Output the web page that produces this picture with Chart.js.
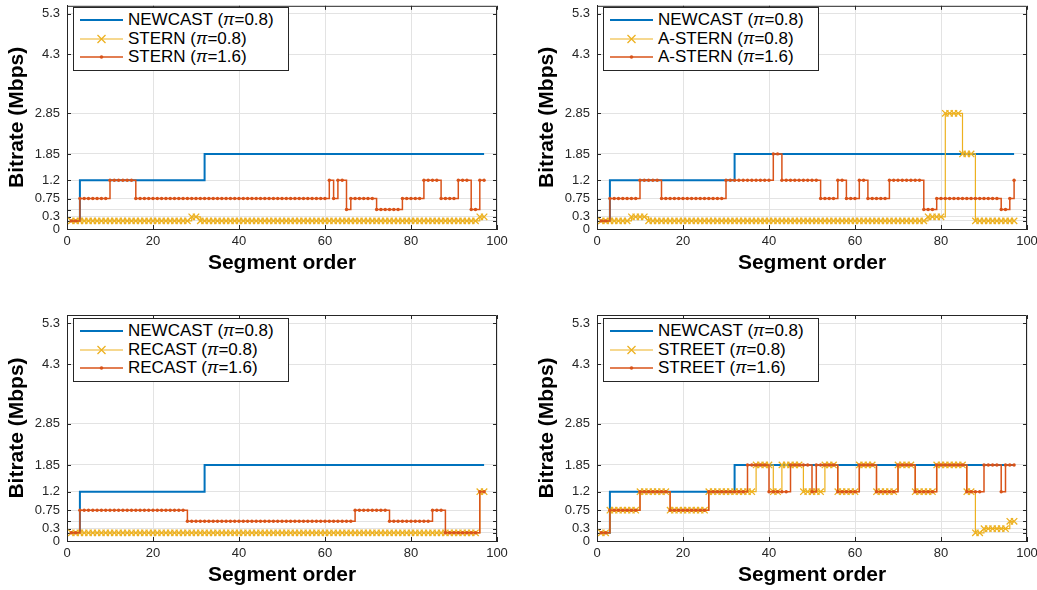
<!DOCTYPE html>
<html>
<head>
<meta charset="utf-8">
<script src="https://cdn.jsdelivr.net/npm/chart.js@4.4.0/dist/chart.umd.min.js"></script>
<style>
  body { margin: 0; background: #fff; }
  #wrap { position: relative; width: 1037px; height: 590px; overflow: hidden; font-family: "Liberation Sans", Arial, sans-serif; }
  #wrap canvas { position: absolute; left: 0; top: 0; }
  .legend { position: absolute; background: #fff; border: 1px solid #262626; padding: 3px 14px 3px 6px; font-size: 17px; color: #000; }
  .legend .row { height: 18.5px; line-height: 18.5px; white-space: nowrap; display: flex; align-items: center; }
  .legend svg { margin-right: 5px; flex: none; }
</style>
</head>
<body>
<div id="wrap">
  <canvas id="c1" width="1037" height="590"></canvas>
  <canvas id="c2" width="1037" height="590"></canvas>
  <canvas id="c3" width="1037" height="590"></canvas>
  <canvas id="c4" width="1037" height="590"></canvas>
</div>
<script>
// segment order (x) and bitrate per segment (Mbps)
const segmentOrder = [
  1, 2, 3, 4, 5, 6, 7, 8, 9, 10,
  11, 12, 13, 14, 15, 16, 17, 18, 19, 20,
  21, 22, 23, 24, 25, 26, 27, 28, 29, 30,
  31, 32, 33, 34, 35, 36, 37, 38, 39, 40,
  41, 42, 43, 44, 45, 46, 47, 48, 49, 50,
  51, 52, 53, 54, 55, 56, 57, 58, 59, 60,
  61, 62, 63, 64, 65, 66, 67, 68, 69, 70,
  71, 72, 73, 74, 75, 76, 77, 78, 79, 80,
  81, 82, 83, 84, 85, 86, 87, 88, 89, 90,
  91, 92, 93, 94, 95, 96, 97
];

const newcast = [
  0.2, 0.2, 1.2, 1.2, 1.2, 1.2, 1.2, 1.2, 1.2, 1.2,
  1.2, 1.2, 1.2, 1.2, 1.2, 1.2, 1.2, 1.2, 1.2, 1.2,
  1.2, 1.2, 1.2, 1.2, 1.2, 1.2, 1.2, 1.2, 1.2, 1.2,
  1.2, 1.85, 1.85, 1.85, 1.85, 1.85, 1.85, 1.85, 1.85, 1.85,
  1.85, 1.85, 1.85, 1.85, 1.85, 1.85, 1.85, 1.85, 1.85, 1.85,
  1.85, 1.85, 1.85, 1.85, 1.85, 1.85, 1.85, 1.85, 1.85, 1.85,
  1.85, 1.85, 1.85, 1.85, 1.85, 1.85, 1.85, 1.85, 1.85, 1.85,
  1.85, 1.85, 1.85, 1.85, 1.85, 1.85, 1.85, 1.85, 1.85, 1.85,
  1.85, 1.85, 1.85, 1.85, 1.85, 1.85, 1.85, 1.85, 1.85, 1.85,
  1.85, 1.85, 1.85, 1.85, 1.85, 1.85, 1.85
];

const stern08 = [
  0.2, 0.2, 0.2, 0.2, 0.2, 0.2, 0.2, 0.2, 0.2, 0.2,
  0.2, 0.2, 0.2, 0.2, 0.2, 0.2, 0.2, 0.2, 0.2, 0.2,
  0.2, 0.2, 0.2, 0.2, 0.2, 0.2, 0.2, 0.2, 0.3, 0.3,
  0.2, 0.2, 0.2, 0.2, 0.2, 0.2, 0.2, 0.2, 0.2, 0.2,
  0.2, 0.2, 0.2, 0.2, 0.2, 0.2, 0.2, 0.2, 0.2, 0.2,
  0.2, 0.2, 0.2, 0.2, 0.2, 0.2, 0.2, 0.2, 0.2, 0.2,
  0.2, 0.2, 0.2, 0.2, 0.2, 0.2, 0.2, 0.2, 0.2, 0.2,
  0.2, 0.2, 0.2, 0.2, 0.2, 0.2, 0.2, 0.2, 0.2, 0.2,
  0.2, 0.2, 0.2, 0.2, 0.2, 0.2, 0.2, 0.2, 0.2, 0.2,
  0.2, 0.2, 0.2, 0.2, 0.2, 0.3, 0.3
];

const stern16 = [
  0.2, 0.2, 0.75, 0.75, 0.75, 0.75, 0.75, 0.75, 0.75, 1.2,
  1.2, 1.2, 1.2, 1.2, 1.2, 0.75, 0.75, 0.75, 0.75, 0.75,
  0.75, 0.75, 0.75, 0.75, 0.75, 0.75, 0.75, 0.75, 0.75, 0.75,
  0.75, 0.75, 0.75, 0.75, 0.75, 0.75, 0.75, 0.75, 0.75, 0.75,
  0.75, 0.75, 0.75, 0.75, 0.75, 0.75, 0.75, 0.75, 0.75, 0.75,
  0.75, 0.75, 0.75, 0.75, 0.75, 0.75, 0.75, 0.75, 0.75, 0.75,
  1.2, 0.75, 1.2, 1.2, 0.48, 0.75, 0.75, 0.75, 0.75, 0.75,
  0.75, 0.48, 0.48, 0.48, 0.48, 0.48, 0.48, 0.75, 0.75, 0.75,
  0.75, 0.75, 1.2, 1.2, 1.2, 1.2, 0.75, 0.75, 0.75, 0.75,
  1.2, 1.2, 1.2, 0.48, 0.48, 1.2, 1.2
];

const astern08 = [
  0.2, 0.2, 0.2, 0.2, 0.2, 0.2, 0.2, 0.3, 0.3, 0.3,
  0.3, 0.2, 0.2, 0.2, 0.2, 0.2, 0.2, 0.2, 0.2, 0.2,
  0.2, 0.2, 0.2, 0.2, 0.2, 0.2, 0.2, 0.2, 0.2, 0.2,
  0.2, 0.2, 0.2, 0.2, 0.2, 0.2, 0.2, 0.2, 0.2, 0.2,
  0.2, 0.2, 0.2, 0.2, 0.2, 0.2, 0.2, 0.2, 0.2, 0.2,
  0.2, 0.2, 0.2, 0.2, 0.2, 0.2, 0.2, 0.2, 0.2, 0.2,
  0.2, 0.2, 0.2, 0.2, 0.2, 0.2, 0.2, 0.2, 0.2, 0.2,
  0.2, 0.2, 0.2, 0.2, 0.2, 0.2, 0.3, 0.3, 0.3, 0.3,
  2.85, 2.85, 2.85, 2.85, 1.85, 1.85, 1.85, 0.2, 0.2, 0.2,
  0.2, 0.2, 0.2, 0.2, 0.2, 0.2, 0.2
];

const astern16 = [
  0.2, 0.2, 0.75, 0.75, 0.75, 0.75, 0.75, 0.75, 0.75, 1.2,
  1.2, 1.2, 1.2, 1.2, 0.75, 0.75, 0.75, 0.75, 0.75, 0.75,
  0.75, 0.75, 0.75, 0.75, 0.75, 0.75, 0.75, 0.75, 0.75, 1.2,
  1.2, 1.2, 1.2, 1.2, 1.2, 1.2, 1.2, 1.2, 1.2, 1.2,
  1.85, 1.85, 1.2, 1.2, 1.2, 1.2, 1.2, 1.2, 1.2, 1.2,
  1.2, 0.75, 0.75, 0.75, 0.75, 1.2, 1.2, 0.75, 0.75, 0.75,
  1.2, 1.2, 0.75, 0.75, 0.75, 0.75, 0.75, 1.2, 1.2, 1.2,
  1.2, 1.2, 1.2, 1.2, 1.2, 0.48, 0.48, 0.48, 0.75, 0.75,
  0.75, 0.75, 0.75, 0.75, 0.75, 0.75, 0.75, 0.75, 0.75, 0.75,
  0.75, 0.75, 0.75, 0.48, 0.48, 0.75, 1.2
];

const recast08 = [
  0.2, 0.2, 0.2, 0.2, 0.2, 0.2, 0.2, 0.2, 0.2, 0.2,
  0.2, 0.2, 0.2, 0.2, 0.2, 0.2, 0.2, 0.2, 0.2, 0.2,
  0.2, 0.2, 0.2, 0.2, 0.2, 0.2, 0.2, 0.2, 0.2, 0.2,
  0.2, 0.2, 0.2, 0.2, 0.2, 0.2, 0.2, 0.2, 0.2, 0.2,
  0.2, 0.2, 0.2, 0.2, 0.2, 0.2, 0.2, 0.2, 0.2, 0.2,
  0.2, 0.2, 0.2, 0.2, 0.2, 0.2, 0.2, 0.2, 0.2, 0.2,
  0.2, 0.2, 0.2, 0.2, 0.2, 0.2, 0.2, 0.2, 0.2, 0.2,
  0.2, 0.2, 0.2, 0.2, 0.2, 0.2, 0.2, 0.2, 0.2, 0.2,
  0.2, 0.2, 0.2, 0.2, 0.2, 0.2, 0.2, 0.2, 0.2, 0.2,
  0.2, 0.2, 0.2, 0.2, 0.2, 1.2, 1.2
];

const recast16 = [
  0.2, 0.2, 0.75, 0.75, 0.75, 0.75, 0.75, 0.75, 0.75, 0.75,
  0.75, 0.75, 0.75, 0.75, 0.75, 0.75, 0.75, 0.75, 0.75, 0.75,
  0.75, 0.75, 0.75, 0.75, 0.75, 0.75, 0.75, 0.48, 0.48, 0.48,
  0.48, 0.48, 0.48, 0.48, 0.48, 0.48, 0.48, 0.48, 0.48, 0.48,
  0.48, 0.48, 0.48, 0.48, 0.48, 0.48, 0.48, 0.48, 0.48, 0.48,
  0.48, 0.48, 0.48, 0.48, 0.48, 0.48, 0.48, 0.48, 0.48, 0.48,
  0.48, 0.48, 0.48, 0.48, 0.48, 0.48, 0.75, 0.75, 0.75, 0.75,
  0.75, 0.75, 0.75, 0.75, 0.48, 0.48, 0.48, 0.48, 0.48, 0.48,
  0.48, 0.48, 0.48, 0.48, 0.75, 0.75, 0.75, 0.2, 0.2, 0.2,
  0.2, 0.2, 0.2, 0.2, 0.2, 1.2, 1.2
];

const street08 = [
  0.2, 0.2, 0.75, 0.75, 0.75, 0.75, 0.75, 0.75, 0.75, 1.2,
  1.2, 1.2, 1.2, 1.2, 1.2, 1.2, 0.75, 0.75, 0.75, 0.75,
  0.75, 0.75, 0.75, 0.75, 0.75, 1.2, 1.2, 1.2, 1.2, 1.2,
  1.2, 1.2, 1.2, 1.2, 1.2, 1.2, 1.85, 1.85, 1.85, 1.85,
  1.2, 1.2, 1.85, 1.85, 1.85, 1.85, 1.85, 1.2, 1.2, 1.2,
  1.2, 1.2, 1.85, 1.85, 1.85, 1.2, 1.2, 1.2, 1.2, 1.2,
  1.85, 1.85, 1.85, 1.85, 1.2, 1.2, 1.2, 1.2, 1.2, 1.85,
  1.85, 1.85, 1.85, 1.2, 1.2, 1.2, 1.2, 1.2, 1.85, 1.85,
  1.85, 1.85, 1.85, 1.85, 1.85, 1.2, 1.2, 0.2, 0.2, 0.3,
  0.3, 0.3, 0.3, 0.3, 0.3, 0.48, 0.48
];

const street16 = [
  0.2, 0.2, 0.75, 0.75, 0.75, 0.75, 0.75, 0.75, 0.75, 1.2,
  1.2, 1.2, 1.2, 1.2, 1.2, 1.2, 0.75, 0.75, 0.75, 0.75,
  0.75, 0.75, 0.75, 0.75, 0.75, 1.2, 1.2, 1.2, 1.2, 1.2,
  1.2, 1.2, 1.2, 1.2, 1.85, 1.85, 1.85, 1.85, 1.85, 1.2,
  1.2, 1.2, 1.2, 1.2, 1.85, 1.85, 1.85, 1.85, 1.85, 1.2,
  1.85, 1.85, 1.85, 1.85, 1.85, 1.2, 1.2, 1.2, 1.2, 1.2,
  1.85, 1.85, 1.85, 1.85, 1.2, 1.2, 1.2, 1.2, 1.2, 1.85,
  1.85, 1.85, 1.85, 1.2, 1.2, 1.2, 1.2, 1.2, 1.85, 1.85,
  1.85, 1.85, 1.85, 1.85, 1.85, 1.2, 1.2, 1.2, 1.2, 1.85,
  1.85, 1.85, 1.85, 1.2, 1.85, 1.85, 1.85
];

// axis ticks
const yTicks = [0, 0.2, 0.3, 0.48, 0.75, 1.2, 1.85, 2.85, 4.3, 5.3];
const yTickLabels = ['0', '', '0.3', '', '0.75', '1.2', '1.85', '2.85', '4.3', '5.3'];

const BLUE = '#0072BD';
const YELLOW = '#EDB120';
const RED = '#D95319';
const AXIS = '#262626';
const GRID = '#e3e3e3';

// draws the top/right box edges and inward tick marks like matlab
const boxPlugin = {
  id: 'box',
  beforeDatasetsDraw(chart) {
    const { ctx, chartArea: a, scales } = chart;
    const len = 4;
    ctx.save();
    ctx.strokeStyle = AXIS;
    ctx.lineWidth = 1;
    ctx.beginPath();
    ctx.moveTo(a.left, a.top + 0.5);
    ctx.lineTo(a.right - 0.5, a.top + 0.5);
    ctx.lineTo(a.right - 0.5, a.bottom);
    scales.x.ticks.forEach(t => {
      const px = Math.round(scales.x.getPixelForValue(t.value)) + 0.5;
      ctx.moveTo(px, a.bottom); ctx.lineTo(px, a.bottom - len);
      ctx.moveTo(px, a.top); ctx.lineTo(px, a.top + len);
    });
    scales.y.ticks.forEach(t => {
      const py = Math.round(scales.y.getPixelForValue(t.value)) + 0.5;
      ctx.moveTo(a.left, py); ctx.lineTo(a.left + len, py);
      ctx.moveTo(a.right, py); ctx.lineTo(a.right - len, py);
    });
    ctx.stroke();
    ctx.restore();
  }
};

function pts(values) {
  return segmentOrder.map((s, i) => ({ x: s, y: values[i] }));
}

// stepped 'before' in chart.js = horizontal first, like matlab stairs
function makePanel(id, area, low, high) {
  new Chart(document.getElementById(id), {
    type: 'line',
    data: {
      datasets: [
        { data: pts(newcast), borderColor: BLUE, borderWidth: 2, pointRadius: 0, stepped: 'before', order: 3 },
        { data: pts(low), borderColor: YELLOW, borderWidth: 1.2, pointStyle: 'crossRot', pointRadius: 4.5,
          pointBorderColor: YELLOW, pointBorderWidth: 1.3, stepped: 'before', order: 2 },
        { data: pts(high), borderColor: RED, borderWidth: 1.5, pointStyle: 'circle', pointRadius: 1.7,
          pointBackgroundColor: RED, pointBorderWidth: 0, stepped: 'before', order: 1 }
      ]
    },
    options: {
      responsive: false,
      animation: false,
      events: [],
      layout: { padding: { left: area.left - 67, right: 1037 - area.right, top: area.top, bottom: 590 - area.bottom - 48 } },
      plugins: { legend: { display: false }, tooltip: { enabled: false } },
      scales: {
        x: {
          type: 'linear', min: 0, max: 100,
          ticks: { stepSize: 20, autoSkip: false, maxRotation: 0, padding: 5, color: AXIS,
                   font: { family: 'Liberation Sans', size: 13 } },
          grid: { color: GRID, drawTicks: false },
          border: { color: AXIS },
          title: { display: true, text: 'Segment order', color: '#000', padding: { top: 0, bottom: 1 },
                   font: { family: 'Liberation Sans', size: 21, weight: 'bold' } },
          afterFit(s) { s.height = 48; s.paddingLeft = 0; s.paddingRight = 0; }
        },
        y: {
          min: 0, max: 5.5,
          afterBuildTicks(s) { s.ticks = yTicks.map(v => ({ value: v })); },
          ticks: { autoSkip: false, padding: 7, color: AXIS, callback: (v, i) => yTickLabels[i],
                   font: { family: 'Liberation Sans', size: 13 } },
          grid: { color: GRID, drawTicks: false },
          border: { color: AXIS },
          title: { display: true, text: 'Bitrate (Mbps)', color: '#000', padding: { top: 5, bottom: 0 },
                   font: { family: 'Liberation Sans', size: 21, weight: 'bold' } },
          afterFit(s) { s.width = 67; s.paddingTop = 0; s.paddingBottom = 0; }
        }
      }
    },
    plugins: [boxPlugin]
  });
}

function sample(kind) {
  let s = '<svg width="43" height="18" viewBox="0 0 43 18">';
  if (kind === 0) s += '<line x1="0" y1="9" x2="43" y2="9" stroke="' + BLUE + '" stroke-width="2"/>';
  if (kind === 1) s += '<line x1="0" y1="9" x2="43" y2="9" stroke="' + YELLOW + '" stroke-width="1"/>' +
    '<path d="M17.5 5 L25.5 13 M25.5 5 L17.5 13" stroke="' + YELLOW + '" stroke-width="1.3"/>';
  if (kind === 2) s += '<line x1="0" y1="9" x2="43" y2="9" stroke="' + RED + '" stroke-width="1.5"/>' +
    '<circle cx="21.5" cy="9" r="1.8" fill="' + RED + '"/>';
  return s + '</svg>';
}

function makeLegend(left, top, names) {
  const pis = ['0.8', '0.8', '1.6'];
  const div = document.createElement('div');
  div.className = 'legend';
  div.style.left = left + 'px';
  div.style.top = top + 'px';
  div.innerHTML = names.map((n, i) =>
    '<div class="row">' + sample(i) + '<span>' + n + ' (<i>π</i>=' + pis[i] + ')</span></div>').join('');
  document.getElementById('wrap').appendChild(div);
}

makePanel('c1', { left: 67, right: 497, top: 4, bottom: 229 }, stern08, stern16);
makePanel('c2', { left: 597, right: 1027, top: 4, bottom: 229 }, astern08, astern16);
makePanel('c3', { left: 67, right: 497, top: 315, bottom: 541 }, recast08, recast16);
makePanel('c4', { left: 597, right: 1027, top: 315, bottom: 541 }, street08, street16);

makeLegend(73, 7, ['NEWCAST', 'STERN', 'STERN']);
makeLegend(603, 7, ['NEWCAST', 'A-STERN', 'A-STERN']);
makeLegend(73, 318, ['NEWCAST', 'RECAST', 'RECAST']);
makeLegend(603, 318, ['NEWCAST', 'STREET', 'STREET']);
</script>
</body>
</html>
